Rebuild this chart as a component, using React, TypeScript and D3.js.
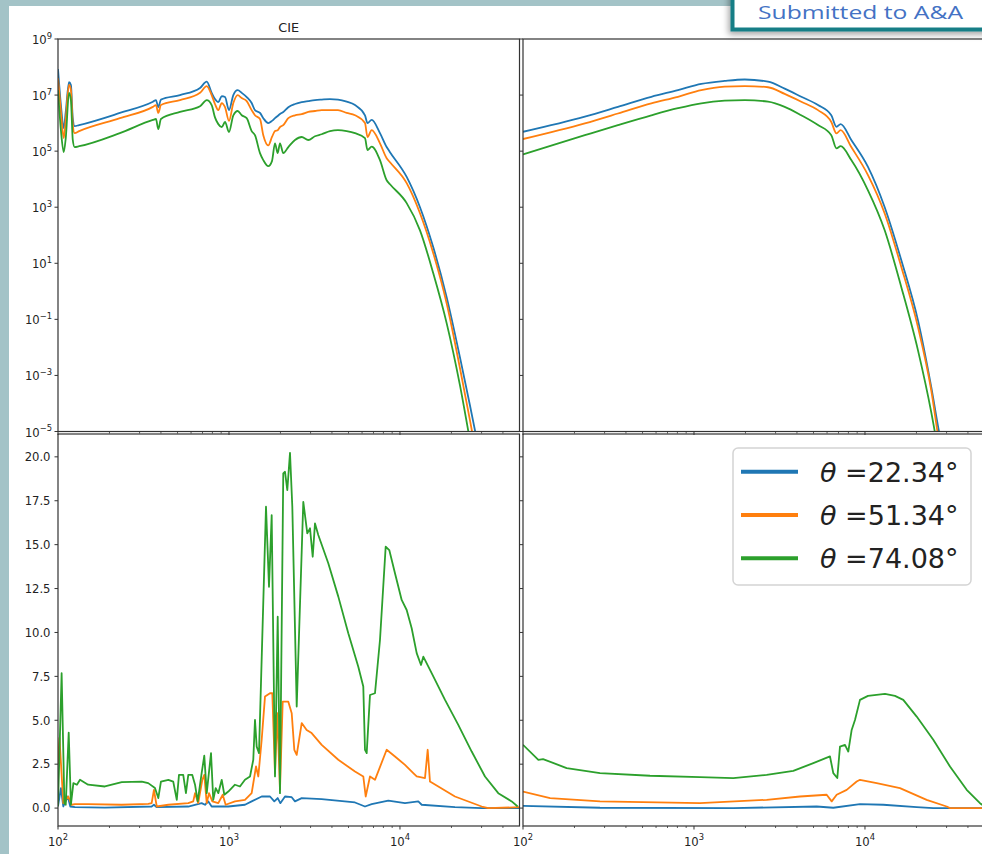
import * as d3 from "d3";

const W = 982;
const H = 854;

const colors = ["#1f77b4", "#ff7f0e", "#2ca02c"];
const angles = ["22.34", "51.34", "74.08"];

// top-left (CIE, log scale) shared energy grid
const topLeftEnergy = [100, 104, 108, 111, 116, 119, 122, 125, 133, 230, 359, 374, 386, 400, 517, 677, 741, 792, 828, 866, 907, 948, 1000, 1060, 1124, 1187, 1269, 1357, 1419, 1518, 1587, 1698, 1784, 1858, 1927, 1987, 2077, 2223, 2432, 2662, 2909, 3184, 3484, 3896, 4340, 4879, 5456, 6242, 6454, 6831, 7638, 8358, 8740, 10944, 13092, 15656, 18760, 22432, 25666, 27454, 30173];
const topLeftBlue = [8.5e7, 4.4e6, 6.6e5, 2.5e6, 2.9e7, 2.3e7, 1.5e6, 7.8e5, 8.5e5, 2.3e6, 5.8e6, 6.6e6, 3.7e6, 6.9e6, 1.0e7, 1.8e7, 3.0e7, 1.2e7, 7.2e6, 5.6e6, 9.2e6, 8.5e6, 2.9e6, 1.0e7, 1.5e7, 1.2e7, 8.5e6, 5.2e6, 2.9e6, 2.3e6, 1.5e6, 1.0e6, 1.2e6, 1.5e6, 1.8e6, 2.1e6, 2.5e6, 3.7e6, 4.8e6, 5.6e6, 6.1e6, 6.6e6, 6.9e6, 7.2e6, 6.9e6, 5.8e6, 4.4e6, 1.9e6, 1.0e6, 1.3e6, 4.4e5, 1.4e5, 9.2e4, 1.2e4, 1.0e3, 37, 0.61, 4.4e-3, 8.5e-5, 1.1e-5, 5.6e-7];
const topLeftOrange = [4.0e7, 2.5e6, 2.9e5, 1.3e6, 2.3e7, 1.5e7, 9.2e5, 4.4e5, 5.2e5, 1.5e6, 3.8e6, 4.4e6, 2.3e6, 4.4e6, 6.6e6, 1.2e7, 2.1e7, 1.0e7, 4.8e6, 2.9e6, 5.2e6, 3.7e6, 1.2e6, 5.2e6, 1.0e7, 7.8e6, 6.1e6, 2.9e6, 1.9e6, 1.4e6, 3.7e5, 1.6e5, 3.2e5, 5.2e5, 5.6e5, 7.2e5, 8.5e5, 1.5e6, 1.9e6, 2.1e6, 2.5e6, 2.7e6, 2.9e6, 2.9e6, 2.9e6, 2.3e6, 1.9e6, 1.0e6, 3.2e5, 5.6e5, 1.9e5, 5.6e4, 4.0e4, 7.2e3, 6.1e2, 23, 0.37, 1.8e-3, 2.5e-5, 2.7e-6, 1.2e-7];
const topLeftGreen = [1.5e7, 5.6e5, 9.2e4, 2.9e5, 1.2e7, 6.6e6, 2.5e5, 1.4e5, 1.5e5, 4.4e5, 1.3e6, 1.4e6, 6.1e5, 1.4e6, 2.5e6, 4.0e6, 6.6e6, 4.4e6, 1.6e6, 9.2e5, 7.2e5, 1.1e6, 4.8e5, 1.9e6, 2.7e6, 1.9e6, 1.5e6, 5.2e5, 3.7e5, 8.5e4, 4.8e4, 2.9e4, 4.4e4, 1.9e5, 8.5e4, 1.9e5, 8.5e4, 1.4e5, 2.5e5, 3.2e5, 2.5e5, 3.4e5, 4.0e5, 5.2e5, 5.6e5, 5.2e5, 4.4e5, 2.9e5, 1.1e5, 1.45e5, 4.8e4, 9.2e3, 6.6e3, 1.4e3, 1.5e2, 4.4, 0.072, 4.4e-4, 4.8e-6, 5.2e-7, 2.3e-8];

// top-right (log scale) shared energy grid
const topRightEnergy = [100, 230, 359, 563, 806, 1103, 1512, 1980, 2709, 3391, 4241, 5311, 6354, 6812, 7208, 8317, 10411, 13040, 16312, 20416, 24420, 27089, 29770];
const topRightBlue = [4.9e5, 1.7e6, 3.8e6, 8.7e6, 1.5e7, 2.5e7, 3.2e7, 3.6e7, 3.0e7, 1.7e7, 8.7e6, 4.4e6, 1.9e6, 7.4e5, 9.2e5, 2.5e5, 2.75e4, 1.0e3, 12.8, 0.092, 3.8e-4, 1.0e-5, 5.6e-7];
const topRightOrange = [2.7e5, 9.8e5, 2.2e6, 5.1e6, 8.7e6, 1.5e7, 2.0e7, 2.1e7, 1.9e7, 1.1e7, 5.8e6, 2.9e6, 1.1e6, 4.3e5, 5.6e5, 1.4e5, 1.4e4, 6.0e2, 7.4, 0.053, 2.9e-4, 4.4e-6, 1.8e-7];
const topRightGreen = [7.6e4, 3.7e5, 8.5e5, 1.9e6, 3.4e6, 5.1e6, 6.3e6, 6.6e6, 5.8e6, 3.8e6, 1.9e6, 8.5e5, 3.7e5, 1.25e5, 1.5e5, 4.8e4, 4.0e3, 1.5e2, 1.4, 7.8e-3, 4.8e-5, 1.4e-6, 5.2e-8];

// bottom-left (ratio, linear) [energy, value]
const bottomLeftBlue = [[100, 0.1], [104, 1.14], [107.4, 0.09], [114, 0.66], [118, 0.09], [125.7, 0.05], [188, 0.03], [353, 0.09], [364, 0.19], [378, 0.05], [578, 0.09], [692, 0.28], [724, 0.19], [757, 0.38], [792, 0.09], [991, 0.09], [1240, 0.19], [1357, 0.38], [1553, 0.66], [1737, 0.66], [1841, 0.38], [1927, 0.57], [1996, 0.28], [2126, 0.66], [2327, 0.62], [2432, 0.38], [2662, 0.57], [3484, 0.51], [5456, 0.32], [6242, 0.09], [6831, 0.23], [8543, 0.43], [10696, 0.28], [12794, 0.38], [13395, 0.19], [20968, 0.05], [30047, 0.0], [50000, 0.0]];
const bottomLeftOrange = [[100, 2.5], [102, 4.0], [107.4, 0.28], [114.9, 0.66], [120, 0.19], [125.7, 0.23], [150, 0.23], [236, 0.19], [337, 0.24], [353, 0.28], [364, 1.04], [378, 0.09], [442, 0.19], [578, 0.28], [618, 0.38], [633, 0.85], [661, 0.28], [698, 1.61], [717, 1.89], [741, 0.28], [764, 0.85], [799, 0.38], [866, 0.28], [919, 0.76], [956, 0.19], [1084, 0.38], [1240, 0.47], [1357, 0.85], [1439, 2.37], [1484, 1.8], [1553, 3.89], [1624, 6.35], [1737, 6.54], [1792, 6.54], [1858, 1.99], [1917, 5.4], [1987, 1.04], [2061, 6.06], [2223, 6.06], [2327, 5.4], [2410, 3.32], [2489, 3.03], [2662, 4.84], [2845, 4.45], [3043, 4.27], [3484, 3.6], [4358, 2.75], [5456, 2.08], [6101, 1.8], [6302, 0.66], [6677, 1.8], [7142, 1.61], [8358, 3.32], [9349, 2.94], [10696, 2.46], [11963, 1.99], [12522, 1.8], [14004, 1.71], [14521, 3.32], [14976, 1.51], [20968, 0.66], [30047, 0.09], [32852, 0.0], [50000, 0.05]];
const bottomLeftGreen = [[100, 0.1], [105, 7.68], [109, 0.28], [111, 0.19], [115.5, 4.3], [119, 0.19], [123, 1.42], [129, 1.33], [134.5, 1.61], [150, 1.33], [188, 1.23], [236, 1.48], [309, 1.51], [337, 1.42], [369, 1.14], [386, 0.57], [400, 1.51], [442, 1.61], [472, 1.51], [495, 0.47], [510, 1.89], [540, 1.89], [560, 0.85], [578, 1.89], [610, 1.89], [633, 1.33], [656, 0.38], [692, 1.99], [717, 2.98], [741, 0.85], [785, 3.13], [809, 0.47], [836, 1.14], [866, 0.85], [907, 1.61], [939, 0.76], [991, 0.94], [1084, 1.33], [1159, 1.23], [1240, 1.61], [1327, 1.8], [1387, 2.75], [1419, 5.02], [1452, 3.5], [1498, 3.13], [1646, 17.16], [1714, 12.6], [1777, 16.68], [1858, 1.8], [1927, 10.9], [1987, 0.85], [2077, 19.06], [2126, 19.15], [2193, 18.1], [2274, 20.23], [2346, 17.16], [2489, 5.78], [2720, 17.44], [2870, 15.64], [2977, 15.93], [3087, 14.31], [3184, 16.21], [3328, 15.55], [3808, 13.94], [4358, 12.04], [4986, 9.95], [5704, 8.05], [6101, 6.92], [6242, 3.32], [6387, 3.13], [6677, 6.44], [7142, 6.54], [7638, 9.57], [8248, 14.88], [8657, 14.69], [9349, 13.37], [10230, 11.85], [10944, 11.28], [11707, 10.24], [12522, 8.82], [13272, 8.15], [13690, 8.62], [15320, 7.68], [18337, 6.16], [21924, 4.74], [26263, 3.22], [31413, 1.8], [37571, 0.85], [45003, 0.38], [48781, 0.09]];

// bottom-right (ratio, linear) [energy, value]
const bottomRightBlue = [[100, 0.13], [282, 0.02], [1698, 0.0], [5220, 0.09], [6526, 0.02], [9349, 0.23], [12794, 0.19], [20062, 0.06], [25085, 0.0], [50000, 0.0]];
const bottomRightOrange = [[100, 0.94], [144, 0.57], [282, 0.38], [1084, 0.28], [2662, 0.47], [4169, 0.66], [5970, 0.76], [6387, 0.38], [6831, 0.76], [7816, 1.04], [8943, 1.51], [9349, 1.61], [11707, 1.42], [16020, 1.14], [22950, 0.47], [30047, 0.09], [31413, 0.0], [50000, 0.0]];
const bottomRightGreen = [[100, 3.6], [123, 2.75], [131, 2.79], [180, 2.28], [282, 1.99], [553, 1.84], [1084, 1.76], [1698, 1.71], [2662, 1.89], [3808, 2.12], [4986, 2.56], [6242, 2.94], [6526, 1.99], [6887, 1.71], [7142, 3.5], [7638, 3.6], [7985, 3.22], [8358, 4.45], [8740, 5.02], [9349, 6.16], [10411, 6.39], [13092, 6.5], [14976, 6.39], [16749, 6.16], [20062, 5.21], [25085, 3.89], [31413, 2.37], [39330, 1.04], [47032, 0.28], [50000, 0.1]];

const xMajor = [100, 1000, 10000];
const topTicks = [1e9, 1e7, 1e5, 1e3, 1e1, 1e-1, 1e-3, 1e-5];
const bottomTicks = [0, 2.5, 5, 7.5, 10, 12.5, 15, 17.5, 20];

const zip = (xs, ys) => xs.map((x, i) => [x, ys[i]]);

const cols = [{ x0: 58, x1: 519.5 }, { x0: 523, x1: 984.5 }];
const rows = [{ y0: 39, y1: 431.5 }, { y0: 434, y1: 826 }];

const yTop = d3.scaleLog().domain([1e-5, 1e9]).range([rows[0].y1, rows[0].y0]);
const yBot = d3.scaleLinear().domain([-1.02, 21.3]).range([rows[1].y1, rows[1].y0]);

const minorX = d3.range(2, 10).flatMap((m) => xMajor.map((b) => m * b)).filter((v) => v < 5e4);

const expLabel = (v) => {
  const e = Math.round(Math.log10(v));
  return String(e).replace("-", "\u2212");
};

function Panel({ id, col, row, y, yTicks, logY, showYLabels, showXLabels, series, curve }) {
  const x = d3.scaleLog().domain([100, 5e4]).range([col.x0, col.x1]);
  const line = d3
    .line()
    .x((d) => x(d[0]))
    .y((d) => y(d[1]))
    .curve(curve);
  return (
    <g>
      <clipPath id={id}>
        <rect x={col.x0} y={row.y0} width={col.x1 - col.x0} height={row.y1 - row.y0} />
      </clipPath>
      <g clipPath={`url(#${id})`}>
        {series.map((s, i) => (
          <path key={i} d={line(s)} fill="none" stroke={colors[i]} strokeWidth={1.8} strokeLinejoin="round" />
        ))}
      </g>
      <rect x={col.x0} y={row.y0} width={col.x1 - col.x0} height={row.y1 - row.y0} fill="none" stroke="#333" strokeWidth={1.2} />
      {yTicks.map((t) => (
        <g key={t}>
          <line x1={col.x0 - 3.5} x2={col.x0} y1={y(t)} y2={y(t)} stroke="#333" strokeWidth={1} />
          {showYLabels &&
            (logY ? (
              <text x={col.x0 - 6} y={y(t) + 5} textAnchor="end" fontSize={11.6} fill="#222">
                10<tspan dy={-5.5} fontSize={8.4}>{expLabel(t)}</tspan>
              </text>
            ) : (
              <text x={col.x0 - 7.5} y={y(t) + 4.3} textAnchor="end" fontSize={11.6} fill="#222">
                {t.toFixed(1)}
              </text>
            ))}
        </g>
      ))}
      {xMajor.map((t) => (
        <g key={t}>
          <line x1={x(t)} x2={x(t)} y1={row.y1} y2={row.y1 + 3.5} stroke="#333" strokeWidth={1} />
          {showXLabels && (
            <text x={x(t)} y={845.5} textAnchor="middle" fontSize={11.6} fill="#222">
              10<tspan dy={-5.5} fontSize={8.4}>{expLabel(t)}</tspan>
            </text>
          )}
        </g>
      ))}
      {minorX.map((t) => (
        <line key={t} x1={x(t)} x2={x(t)} y1={row.y1} y2={row.y1 + 2} stroke="#333" strokeWidth={0.8} />
      ))}
    </g>
  );
}

export default function App() {
  const topLeft = [zip(topLeftEnergy, topLeftBlue), zip(topLeftEnergy, topLeftOrange), zip(topLeftEnergy, topLeftGreen)];
  const topRight = [zip(topRightEnergy, topRightBlue), zip(topRightEnergy, topRightOrange), zip(topRightEnergy, topRightGreen)];
  const bottomLeft = [bottomLeftBlue, bottomLeftOrange, bottomLeftGreen];
  const bottomRight = [bottomRightBlue, bottomRightOrange, bottomRightGreen];

  return (
    <svg
      width={W}
      height={H}
      style={{ position: "absolute", left: 0, top: 0 }}
      fontFamily="DejaVu Sans, sans-serif"
    >
      <defs>
        <filter id="shadow" x="-20%" y="-60%" width="140%" height="220%">
          <feDropShadow dx={-2} dy={3} stdDeviation={3} floodColor="#000" floodOpacity={0.35} />
        </filter>
      </defs>
      <rect width={W} height={H} fill="#a3c3c7" />
      <rect x={9} y={6} width={W - 9} height={H - 6} fill="#fff" />

      <text x={(cols[0].x0 + cols[0].x1) / 2} y={32} textAnchor="middle" fontSize={12.8} fill="#222">
        CIE
      </text>

      <Panel id="c-tl" col={cols[0]} row={rows[0]} y={yTop} yTicks={topTicks} logY showYLabels showXLabels={false} series={topLeft} curve={d3.curveMonotoneX} />
      <Panel id="c-tr" col={cols[1]} row={rows[0]} y={yTop} yTicks={topTicks} logY showYLabels={false} showXLabels={false} series={topRight} curve={d3.curveMonotoneX} />
      <Panel id="c-bl" col={cols[0]} row={rows[1]} y={yBot} yTicks={bottomTicks} logY={false} showYLabels showXLabels series={bottomLeft} curve={d3.curveLinear} />
      <Panel id="c-br" col={cols[1]} row={rows[1]} y={yBot} yTicks={bottomTicks} logY={false} showYLabels={false} showXLabels series={bottomRight} curve={d3.curveLinear} />

      <g>
        <rect x={733} y={448} width={238} height={137} rx={5} fill="#fff" fillOpacity={0.9} stroke="#d4d4d4" strokeWidth={1.5} />
        {angles.map((a, i) => {
          const ly = 471.7 + i * 43.3;
          return (
            <g key={a}>
              <line x1={741} x2={798} y1={ly} y2={ly} stroke={colors[i]} strokeWidth={4} />
              <text x={820} y={ly + 10} fontSize={27} fill="#222">
                <tspan fontStyle="italic">θ</tspan> ={a}°
              </text>
            </g>
          );
        })}
      </g>

      <g filter="url(#shadow)">
        <rect x={732.5} y={-10} width={300} height={39.5} fill="#fff" stroke="#137e86" strokeWidth={4} />
      </g>
      <text x={758} y={19} fontSize={19} fill="#4472c4" fontFamily="Open Sans, sans-serif" textLength={205} lengthAdjust="spacingAndGlyphs">
        Submitted to A&amp;A
      </text>
    </svg>
  );
}
